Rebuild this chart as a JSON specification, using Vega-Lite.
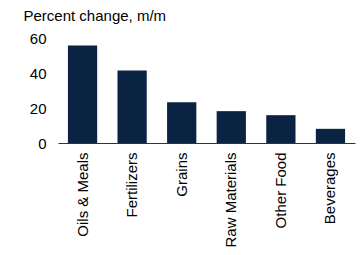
{
  "$schema": "https://vega.github.io/schema/vega-lite/v6.json",
  "width": 297,
  "height": 105,
  "autosize": {"type": "none"},
  "padding": {"left": 58, "top": 38, "right": 7, "bottom": 112},
  "background": "white",
  "config": {
    "view": {"stroke": null},
    "font": "Liberation Sans",
    "axis": {"labelFont": "Liberation Sans", "titleFont": "Liberation Sans", "labelColor": "#000", "titleColor": "#000"}
  },
  "data": {
    "values": [
      {"category": "Oils & Meals", "value": 55.7},
      {"category": "Fertilizers", "value": 41.4},
      {"category": "Grains", "value": 23.3},
      {"category": "Raw Materials", "value": 18.2},
      {"category": "Other Food", "value": 15.9},
      {"category": "Beverages", "value": 8.1}
    ]
  },
  "mark": {"type": "bar", "color": "#0b2343"},
  "encoding": {
    "x": {
      "field": "category",
      "type": "nominal",
      "sort": null,
      "scale": {"paddingInner": 0.41, "paddingOuter": 0.2},
      "axis": {
        "title": null,
        "labelAngle": -90,
        "labelFontSize": 15,
        "labelPadding": 9,
        "ticks": false,
        "domainColor": "#333",
        "domainWidth": 1.2,
        "grid": false
      }
    },
    "y": {
      "field": "value",
      "type": "quantitative",
      "scale": {"domain": [0, 60], "nice": false},
      "axis": {
        "values": [0, 20, 40, 60],
        "title": "Percent change, m/m",
        "titleAngle": 0,
        "titleAlign": "left",
        "titleBaseline": "middle",
        "titleX": -35,
        "titleY": -23,
        "titleFontSize": 15,
        "titleFontWeight": "normal",
        "labelFontSize": 15,
        "labelPadding": 12,
        "ticks": false,
        "domain": false,
        "grid": false
      }
    }
  }
}
